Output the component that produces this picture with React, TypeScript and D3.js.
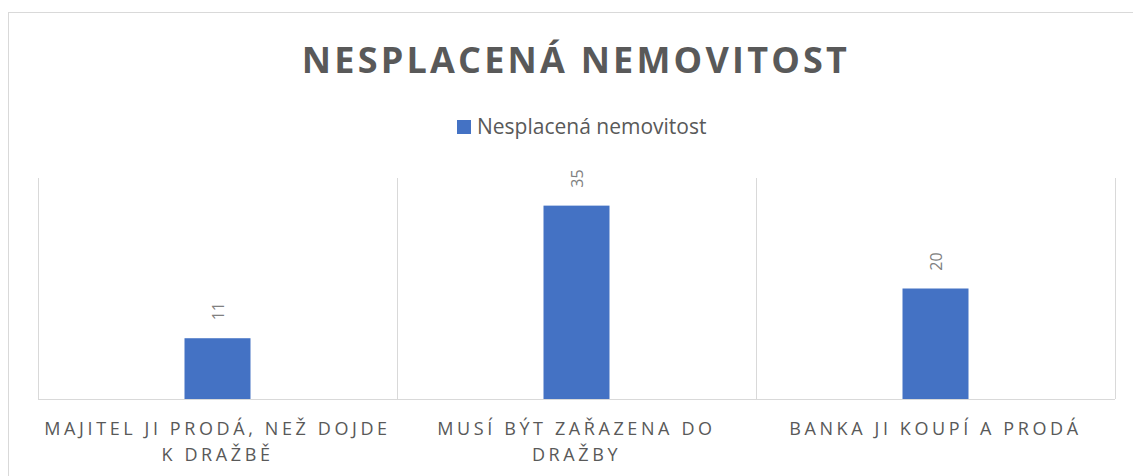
import React from 'react';
import * as d3 from 'd3';

// chart data
const categories = ['majitel', 'zarazena', 'banka'];
const categoryLines = [
  ['MAJITEL JI PRODÁ, NEŽ DOJDE', 'K DRAŽBĚ'],
  ['MUSÍ BÝT ZAŘAZENA DO', 'DRAŽBY'],
  ['BANKA JI KOUPÍ A PRODÁ'],
];
const values = [11, 35, 20];
const seriesName = 'Nesplacená nemovitost';
const title = 'NESPLACENÁ NEMOVITOST';

const W = 1133;
const H = 476;
const font = '"Open Sans", "DejaVu Sans", sans-serif';

const App: React.FC = () => {
  const x = d3.scaleBand().domain(categories).range([38, 1115]);
  const y = d3.scaleLinear().domain([0, 40]).range([399, 178]);
  const barW = 66;
  const bounds = [...categories.map((c) => x(c) || 0), 1115];

  return (
    <svg width={W} height={H} style={{ position: 'absolute', left: 0, top: 0, background: '#fff' }}>
      <rect x={8.5} y={12.5} width={1140} height={480} fill="#fff" stroke="#d9d9d9" strokeWidth={1} />
      <text x={576} y={73} textAnchor="middle" fontFamily={font} fontWeight="bold" fontSize={36}
        letterSpacing={3.2} fill="#595959">{title}</text>

      {/* legend */}
      <rect x={457} y={120} width={14} height={14} fill="#4472c4" />
      <text x={477} y={134} fontFamily={font} fontSize={21} fill="#595959">{seriesName}</text>

      {/* gridlines */}
      {bounds.map((b, i) => (
        <line key={i} x1={b + 0.5} x2={b + 0.5} y1={y(40)} y2={y(0)} stroke="#d9d9d9" strokeWidth={1} />
      ))}

      {categories.map((c, i) => {
        const cx = (x(c) || 0) + x.bandwidth() / 2;
        return (
          <g key={c}>
            <rect x={cx - barW / 2} y={y(values[i])} width={barW} height={y(0) - y(values[i])} fill="#4472c4" />
            <text transform={`translate(${cx + 6},${y(values[i]) - 27}) rotate(-90)`} textAnchor="middle"
              fontFamily={font} fontSize={16} fill="#808080">{values[i]}</text>
            {categoryLines[i].map((t, j) => (
              <text key={j} x={cx} y={435 + j * 26} textAnchor="middle" fontFamily={font} fontSize={18}
                letterSpacing={3.6} fill="#595959">{t}</text>
            ))}
          </g>
        );
      })}

      <line x1={38} x2={1115} y1={399.5} y2={399.5} stroke="#d9d9d9" strokeWidth={1} />
    </svg>
  );
};

export default App;
